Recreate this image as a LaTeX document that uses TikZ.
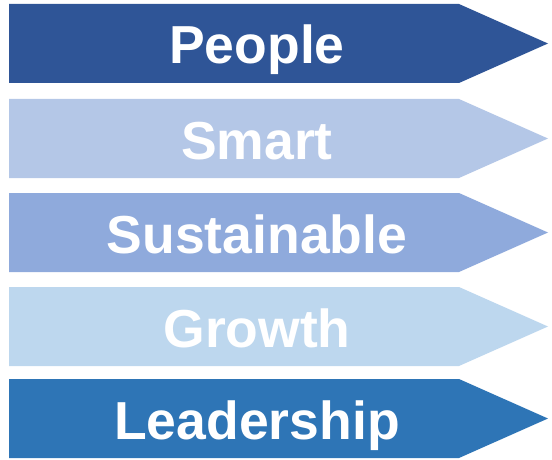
\documentclass[tikz,border=0pt]{standalone}
\usepackage{fontspec}
\setmainfont{Liberation Sans}
\definecolor{rowA}{HTML}{2F5597}
\definecolor{rowB}{HTML}{B4C7E7}
\definecolor{rowC}{HTML}{8FAADC}
\definecolor{rowD}{HTML}{BDD7EE}
\definecolor{rowE}{HTML}{2E75B6}
\begin{document}
\begin{tikzpicture}[x=1pt,y=-1pt,
arrowtext/.style={text=white,anchor=base,inner sep=0pt,font=\fontsize{53.5}{53.5}\selectfont\bfseries}]

\useasboundingbox (0,0) rectangle (552,460);

\foreach \t/\n/\c in {4/People/rowA,99/Smart/rowB,193/Sustainable/rowC,287/Growth/rowD,379/Leadership/rowE}{
\fill[\c] (9,\t) -- (459,\t) -- (548,\t+39.5) -- (459,\t+79) -- (9,\t+79) -- cycle;
\draw (257,\t+60) node[arrowtext] (\n) {\n};
}
\end{tikzpicture}
\end{document}
